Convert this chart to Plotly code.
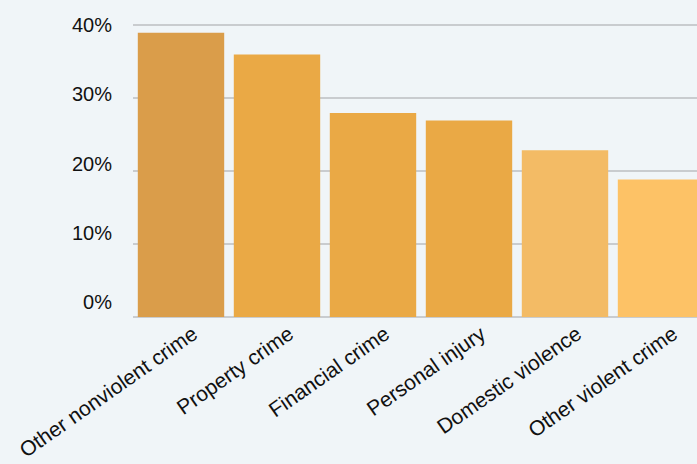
import plotly.graph_objects as go

categories = ["Other nonviolent crime", "Property crime", "Financial crime",
              "Personal injury", "Domestic violence", "Other violent crime"]
values = [38.9, 35.9, 27.9, 26.9, 22.8, 18.8]
colors = ["#DA9D4A", "#EAA945", "#EAA945", "#EAA945", "#F3BB65", "#FDC266"]
y_ticks = [0, 10, 20, 30, 40]
y_tick_labels = ["0%", "10%", "20%", "30%", "40%"]

fig = go.Figure()
fig.add_trace(go.Bar(
    x=categories, y=values,
    marker=dict(color=colors, line=dict(width=0)),
))
# empty trace so the label axis is drawn
fig.add_trace(go.Scatter(x=[], y=[], yaxis="y2", hoverinfo="skip"))

fig.update_layout(
    width=697, height=464,
    margin=dict(l=133, r=0, t=21, b=147),
    paper_bgcolor="#F0F5F8", plot_bgcolor="#F0F5F8",
    bargap=0.1,
    showlegend=False,
    font=dict(family="Liberation Sans, Arial, sans-serif", color="#111111"),
    yaxis=dict(
        range=[0, 40.5], tickvals=y_ticks, showticklabels=False,
        showgrid=True, gridcolor="#C9CCCF", gridwidth=1.5,
        zeroline=True, zerolinecolor="#C9CCCF", zerolinewidth=1.5,
        ticks="", automargin=False,
    ),
    yaxis2=dict(
        overlaying="y", side="left", range=[-2.17, 40.58],
        tickvals=y_ticks, ticktext=y_tick_labels, tickfont=dict(size=20),
        showgrid=False, zeroline=False, ticks="", ticklabelstandoff=20,
        showline=False, automargin=False,
    ),
    xaxis=dict(
        range=[-0.5, 5.375], tickangle=-35, tickfont=dict(size=21),
        showgrid=False, showline=False, ticks="", ticklabelshift=12,
        automargin=False,
    ),
)

fig.write_html("out.html")
